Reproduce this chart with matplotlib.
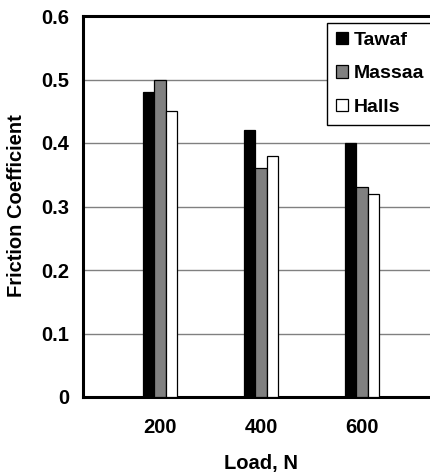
import matplotlib
matplotlib.use("Agg")
import matplotlib.pyplot as plt
import numpy as np

categories = ["200", "400", "600"]
series_names = ["Tawaf", "Massaa", "Halls"]
tawaf = [0.48, 0.42, 0.40]
massaa = [0.50, 0.36, 0.33]
halls = [0.45, 0.38, 0.32]
yticks = [0, 0.1, 0.2, 0.3, 0.4, 0.5, 0.6]
ytick_labels = ["0", "0.1", "0.2", "0.3", "0.4", "0.5", "0.6"]

plt.rcParams['font.family'] = ['Liberation Sans', 'DejaVu Sans']
plt.rcParams['font.weight'] = 'bold'

W, H = 430, 474
fig = plt.figure(figsize=(W / 100, H / 100), dpi=100)
left, right, top, bottom = 83, 445, 16, 397
ax = fig.add_axes([left / W, 1 - bottom / H, (right - left) / W, (bottom - top) / H])

x = np.arange(len(categories))
bw = 0.11
colors = ["#000000", "#808080", "#ffffff"]
for i, (vals, name, c) in enumerate(zip([tawaf, massaa, halls], series_names, colors)):
    ax.bar(x + (i - 1) * bw, vals, width=bw, color=c, edgecolor="black",
           linewidth=0.9, label=name, zorder=3)

spacing = 101
ax.set_xlim(-77 / spacing, (right - 160) / spacing)
ax.set_ylim(0, 0.6)
ax.set_yticks(yticks)
ax.set_yticklabels(ytick_labels)
ax.set_xticks(x)
ax.set_xticklabels(categories)
ax.tick_params(axis='both', length=0, labelsize=14.5)
ax.tick_params(axis='x', pad=15)
ax.tick_params(axis='y', pad=10)
for lbl in ax.get_xticklabels() + ax.get_yticklabels():
    lbl.set_fontweight('bold')

ax.yaxis.grid(True, color="#808080", linewidth=1.0, zorder=0)
ax.set_axisbelow(True)
for s in ["left", "bottom", "top"]:
    ax.spines[s].set_linewidth(2.2)
    ax.spines[s].set_color("black")
ax.spines["right"].set_visible(False)

fig.text(17 / W, 1 - 206 / H, "Friction Coefficient", rotation=90, ha="center", va="center",
         fontsize=14.5, fontweight="bold")
fig.text(261 / W, 1 - 463 / H, "Load, N", ha="center", va="center",
         fontsize=14.5, fontweight="bold")

leg = ax.legend(loc="upper left", bbox_to_anchor=(327 / W, 1 - 23 / H),
                bbox_transform=fig.transFigure, frameon=True, fancybox=False,
                edgecolor="black", framealpha=1, borderpad=0.45, labelspacing=0.85,
                handlelength=0.62, handleheight=0.6, handletextpad=0.3,
                prop={"size": 14, "weight": "bold"}, borderaxespad=0)
leg.get_frame().set_linewidth(1.0)

fig.savefig("out.png", dpi=100)
